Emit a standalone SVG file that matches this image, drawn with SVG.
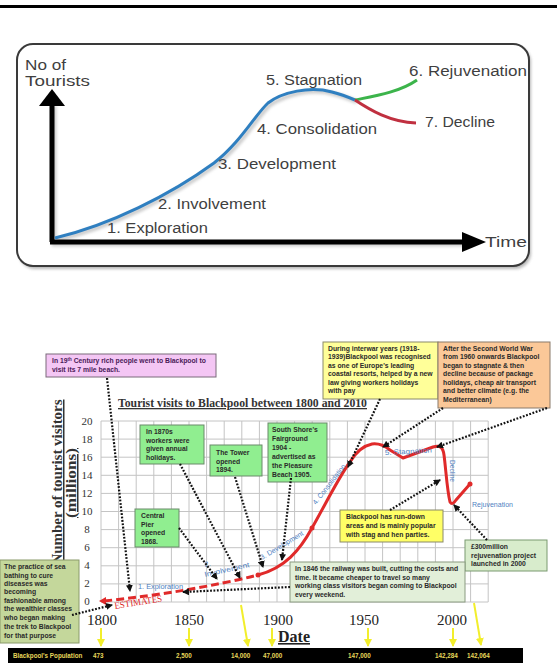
<svg xmlns="http://www.w3.org/2000/svg" width="557" height="663" viewBox="0 0 557 663">
<style>
.lbl{font-family:"Liberation Sans",Arial,sans-serif;font-size:14px;fill:#3f3f3f}
.box{font-family:"Liberation Sans",Arial,sans-serif;font-size:6.8px;font-weight:bold;fill:#2a2a2a}
.cl{font-family:"Liberation Sans",Arial,sans-serif;font-size:7.2px;fill:#4f7fbf}
.ser{font-family:"Liberation Serif","Times New Roman",serif}
.num{font-family:"Liberation Serif","Times New Roman",serif;font-size:11px;fill:#333;text-anchor:middle}
.yr{font-family:"Liberation Serif","Times New Roman",serif;font-size:15px;fill:#222;text-anchor:middle}
.dot{fill:none;stroke:#111;stroke-width:2.2;stroke-dasharray:1.8 1.6;marker-end:url(#ah)}
.ya{fill:none;stroke:#f2ee2c;stroke-width:2;marker-end:url(#yh)}
.pop{font-family:"Liberation Sans",Arial,sans-serif;font-size:6.3px;font-weight:bold;fill:#e6d75a}
.grid{stroke:#c4c4c4;stroke-width:1;fill:none}
</style>
<defs>
<marker id="ah" markerUnits="userSpaceOnUse" markerWidth="7" markerHeight="7" refX="6" refY="3.5" orient="auto"><path d="M0,0 L7,3.5 L0,7 z" fill="#111"/></marker>
<marker id="yh" markerUnits="userSpaceOnUse" markerWidth="8" markerHeight="8" refX="7" refY="4" orient="auto"><path d="M0,0 L8,4 L0,8 z" fill="#f2ee2c"/></marker>
<filter id="sh" x="-10%" y="-10%" width="120%" height="130%"><feGaussianBlur stdDeviation="1.5"/></filter>
</defs>
<rect width="557" height="663" fill="#fff"/>
<rect x="0" y="5" width="557" height="3" fill="#000"/>

<g id="lifecycle">
<rect x="19" y="46" width="512" height="223" rx="16" fill="#888" opacity="0.6" filter="url(#sh)"/>
<rect x="17" y="44" width="512" height="222" rx="16" fill="#fff" stroke="#3a3a3a" stroke-width="2"/>
<path d="M57,240 C112,227 172,197 216,165 C242,145 257,117 270,105 C287,94 312,88 334,94 C342,96 350,99 357,102" fill="none" stroke="#999" stroke-width="4" opacity="0.5" filter="url(#sh)"/>
<path d="M54,244 L54,106 M52,244 L467,244" stroke="#999" stroke-width="5" fill="none" opacity="0.5" filter="url(#sh)"/>
<path d="M52,242 L52,104 M50,242 L465,242" stroke="#000" stroke-width="5" fill="none"/>
<polygon points="52,89 39,106 65,106" fill="#000"/>
<polygon points="486,242 462,232 462,252" fill="#000"/>
<path d="M55,238 C110,225 170,195 214,163 C240,143 255,115 268,103 C282,92 310,86 332,92 C340,94 348,97 355,100" fill="none" stroke="#2f7fc0" stroke-width="3"/>
<path d="M355,100 C375,96 400,92 417,80" fill="none" stroke="#3cb44b" stroke-width="3"/>
<path d="M355,100 C370,110 390,122 416,123" fill="none" stroke="#c03040" stroke-width="3"/>
<text class="lbl" x="25" y="70" textLength="41" lengthAdjust="spacingAndGlyphs">No of</text>
<text class="lbl" x="25" y="86" textLength="65" lengthAdjust="spacingAndGlyphs">Tourists</text>
<text class="lbl" x="107" y="233" textLength="101" lengthAdjust="spacingAndGlyphs">1. Exploration</text>
<text class="lbl" x="158" y="209" textLength="108" lengthAdjust="spacingAndGlyphs">2. Involvement</text>
<text class="lbl" x="218" y="169" textLength="118" lengthAdjust="spacingAndGlyphs">3. Development</text>
<text class="lbl" x="257" y="134" textLength="120" lengthAdjust="spacingAndGlyphs">4. Consolidation</text>
<text class="lbl" x="266" y="85" textLength="96" lengthAdjust="spacingAndGlyphs">5. Stagnation</text>
<text class="lbl" x="409" y="76" textLength="118" lengthAdjust="spacingAndGlyphs">6.  Rejuvenation</text>
<text class="lbl" x="425" y="127" textLength="70" lengthAdjust="spacingAndGlyphs">7. Decline</text>
<text class="lbl" x="485" y="247" textLength="42" lengthAdjust="spacingAndGlyphs">Time</text>
</g>

<g id="chart">
<path class="grid" d="M101,421V602M118.6,421V602M136.2,421V602M153.8,421V602M171.4,421V602M189,421V602M206.6,421V602M224.2,421V602M241.8,421V602M259.4,421V602M277,421V602M294.6,421V602M312.2,421V602M329.8,421V602M347.4,421V602M365,421V602M382.6,421V602M400.2,421V602M417.8,421V602M435.4,421V602M453,421V602M470.6,421V602M488.2,421V602M101,421H488.2M101,439.1H488.2M101,457.2H488.2M101,475.3H488.2M101,493.4H488.2M101,511.5H488.2M101,529.6H488.2M101,547.7H488.2M101,565.8H488.2M101,583.9H488.2M101,602H488.2"/>
<text class="num" x="87" y="425">20</text>
<text class="num" x="87" y="443">18</text>
<text class="num" x="87" y="461">16</text>
<text class="num" x="87" y="479">14</text>
<text class="num" x="87" y="497">12</text>
<text class="num" x="87" y="515">10</text>
<text class="num" x="87" y="533">8</text>
<text class="num" x="87" y="551">6</text>
<text class="num" x="87" y="569">4</text>
<text class="num" x="87" y="587">2</text>
<text class="num" x="87" y="605">0</text>
<text class="ser" x="118" y="407" font-size="13" font-weight="bold" fill="#333" textLength="249" lengthAdjust="spacingAndGlyphs" text-decoration="underline">Tourist visits to Blackpool between 1800 and 2010</text>
<text class="ser" transform="translate(62,482) rotate(-90)" text-anchor="middle" font-size="15" font-weight="bold" fill="#333" textLength="165" lengthAdjust="spacingAndGlyphs" text-decoration="underline">Number of tourist visitors</text>
<text class="ser" transform="translate(76,483) rotate(-90)" text-anchor="middle" font-size="15" font-weight="bold" fill="#333" textLength="70" lengthAdjust="spacingAndGlyphs" text-decoration="underline">(millions)</text>
<text class="yr" x="102" y="625">1800</text>
<text class="yr" x="189" y="625">1850</text>
<text class="yr" x="278" y="625">1900</text>
<text class="yr" x="364" y="625">1950</text>
<text class="yr" x="452" y="625">2000</text>
<text class="ser" x="278" y="642" font-size="16" font-weight="bold" fill="#222" text-decoration="underline">Date</text>
</g>

<g id="curve">
<path d="M104,601 Q190,592 258,575" fill="none" stroke="#e02a2a" stroke-width="3" stroke-dasharray="8 4"/>
<polygon points="99,601 106,597 106,605" fill="#e02a2a"/>
<path d="M258,575 C285,568 300,550 312,528 C325,505 340,475 350,462 C356,452 362,446 372,444 C380,443 385,446 390,450 L403,458 L433,447 C440,445 443,447 444,455 C446,470 447,490 450,502 C452,505 454,503 456,500 L470,484" fill="none" stroke="#e02a2a" stroke-width="3" stroke-linejoin="round"/>
<circle cx="258" cy="575" r="2.5" fill="#e02a2a"/>
<circle cx="312" cy="528" r="2.5" fill="#e02a2a"/>
<circle cx="470" cy="484" r="2.5" fill="#e02a2a"/>
<text class="ser" transform="translate(115,609) rotate(-9)" font-size="9.5" fill="#e02a2a" textLength="48" lengthAdjust="spacingAndGlyphs">ESTIMATES</text>
<text class="cl" x="138" y="589" textLength="45" lengthAdjust="spacingAndGlyphs">1. Exploration</text>
<text class="cl" transform="translate(205,567) rotate(-12)">2.</text>
<text class="cl" transform="translate(205,577) rotate(-12.5)" textLength="46" lengthAdjust="spacingAndGlyphs">Involvement</text>
<text class="cl" transform="translate(262,560) rotate(-31)" textLength="49" lengthAdjust="spacingAndGlyphs">3. Development</text>
<text class="cl" transform="translate(316,505) rotate(-52)" textLength="49" lengthAdjust="spacingAndGlyphs">4. Consolidation</text>
<text class="cl" transform="translate(385,455) rotate(-3)" textLength="47" lengthAdjust="spacingAndGlyphs">5. Stagnation</text>
<text class="cl" transform="translate(450,460) rotate(90)" textLength="22" lengthAdjust="spacingAndGlyphs">Decline</text>
<text class="cl" x="472" y="507" textLength="41" lengthAdjust="spacingAndGlyphs">Rejuvenation</text>
</g>

<g id="box-beach">
<rect x="46" y="354" width="170" height="23" fill="#f4c6f4" stroke="#7a6a7a" stroke-width="1"/>
<text class="box" style="fill:#4a1a58"><tspan x="52" y="363">In 19<tspan font-size="4.5" dy="-2">th</tspan><tspan dy="2"> Century rich people went to Blackpool to</tspan></tspan><tspan x="52" y="372">visit its 7 mile  beach.</tspan></text>
</g>
<g id="box-1870s">
<rect x="140" y="425" width="64" height="39" fill="#90ee90" stroke="#6a8a6a" stroke-width="1"/>
<text class="box"><tspan x="146" y="434">In 1870s</tspan><tspan x="146" y="443">workers were</tspan><tspan x="146" y="451">given annual</tspan><tspan x="146" y="460">holidays.</tspan></text>
</g>
<g id="box-tower">
<rect x="210" y="445" width="52" height="31" fill="#90ee90" stroke="#6a8a6a" stroke-width="1"/>
<text class="box"><tspan x="216" y="455">The Tower</tspan><tspan x="216" y="464">opened</tspan><tspan x="216" y="472">1894.</tspan></text>
</g>
<g id="box-southshore">
<rect x="268" y="423" width="59" height="59" fill="#90ee90" stroke="#6a8a6a" stroke-width="1"/>
<text class="box"><tspan x="272" y="432">South Shore's</tspan><tspan x="272" y="441">Fairground</tspan><tspan x="272" y="450">1904 -</tspan><tspan x="272" y="459">advertised as</tspan><tspan x="272" y="468">the Pleasure</tspan><tspan x="272" y="477">Beach 1905.</tspan></text>
</g>
<g id="box-pier">
<rect x="135" y="509" width="44" height="38" fill="#90ee90" stroke="#6a8a6a" stroke-width="1"/>
<text class="box"><tspan x="141" y="518">Central</tspan><tspan x="141" y="527">Pier</tspan><tspan x="141" y="535">opened</tspan><tspan x="141" y="544">1868.</tspan></text>
</g>
<g id="box-interwar">
<rect x="323" y="342" width="115" height="57" fill="#ffff99" stroke="#8a8a6a" stroke-width="1"/>
<text class="box"><tspan x="328" y="351">During interwar years (1918-</tspan><tspan x="328" y="359">1939)Blackpool was recognised</tspan><tspan x="328" y="368">as one of Europe's leading</tspan><tspan x="328" y="376">coastal resorts, helped by a new</tspan><tspan x="328" y="385">law giving workers holidays</tspan><tspan x="328" y="393">with pay</tspan></text>
</g>
<g id="box-postwar">
<rect x="438" y="342" width="112" height="66" fill="#fbc898" stroke="#8a7a6a" stroke-width="1"/>
<text class="box"><tspan x="443" y="351">After the Second World War</tspan><tspan x="443" y="359">from 1960 onwards Blackpool</tspan><tspan x="443" y="368">began to stagnate &amp; then</tspan><tspan x="443" y="376">decline because of package</tspan><tspan x="443" y="385">holidays, cheap air transport</tspan><tspan x="443" y="393">and better climate (e.g. the</tspan><tspan x="443" y="402">Mediterranean)</tspan></text>
</g>
<g id="box-rundown">
<rect x="340" y="510" width="103" height="32" fill="#ffff66" stroke="#8a8a6a" stroke-width="1"/>
<text class="box"><tspan x="346" y="519">Blackpool has run-down</tspan><tspan x="346" y="528">areas and is mainly popular</tspan><tspan x="346" y="537">with stag and hen parties.</tspan></text>
</g>
<g id="box-rejuv">
<rect x="465" y="540" width="82" height="31" fill="#d8eccc" stroke="#7a9a70" stroke-width="1"/>
<text class="box"><tspan x="471" y="549">£300million</tspan><tspan x="471" y="558">rejuvenation project</tspan><tspan x="471" y="566">launched in 2000</tspan></text>
</g>
<g id="box-railway">
<rect x="290" y="562" width="175" height="40" fill="#e2efd9" stroke="#8a9a80" stroke-width="1"/>
<text class="box"><tspan x="295" y="571">In 1846 the railway was built,  cutting the costs and</tspan><tspan x="295" y="580">time.  It became cheaper to travel so many</tspan><tspan x="295" y="588">working class visitors began coming to Blackpool</tspan><tspan x="295" y="597">every weekend.</tspan></text>
</g>
<g id="box-seabathing">
<rect x="0" y="560" width="79" height="83" fill="#c4d79b" stroke="#8a9a6a" stroke-width="1"/>
<text class="box"><tspan x="4" y="569">The practice of sea</tspan><tspan x="4" y="578">bathing to cure</tspan><tspan x="4" y="586">diseases was</tspan><tspan x="4" y="594">becoming</tspan><tspan x="4" y="603">fashionable among</tspan><tspan x="4" y="611">the wealthier classes</tspan><tspan x="4" y="620">who began making</tspan><tspan x="4" y="629">the trek to Blackpool</tspan><tspan x="4" y="638">for that purpose</tspan></text>
</g>

<g id="connectors">
<path class="dot" d="M107,378 L130,591"/>
<path class="dot" d="M180,464 L240,578"/>
<path class="dot" d="M235,477 L263,567"/>
<path class="dot" d="M179,528 L217,579"/>
<path class="dot" d="M291,478 L282,560"/>
<path class="dot" d="M380,399 L348,467"/>
<path class="dot" d="M443,408 L383,447"/>
<path class="dot" d="M547,408 L437,447"/>
<path class="dot" d="M390,510 L440,480"/>
<path class="dot" d="M487,540 L454,505"/>
<path class="dot" d="M290,587 L183,592"/>
<path class="dot" d="M72,615 L112,605"/>
<path class="ya" d="M101,628 L101,646"/>
<path class="ya" d="M189,628 L189,646"/>
<path class="ya" d="M241,605 L248,646"/>
<path class="ya" d="M272,628 L272,646"/>
<path class="ya" d="M368,628 L368,646"/>
<path class="ya" d="M453,628 L453,646"/>
<path class="ya" d="M474,603 L481,645"/>
</g>

<g id="population">
<rect x="8" y="648" width="515" height="15" fill="#000"/>
<text class="pop" x="13" y="658">Blackpool's Population</text>
<text class="pop" x="93" y="658">473</text>
<text class="pop" x="176" y="658">2,500</text>
<text class="pop" x="231" y="658">14,000</text>
<text class="pop" x="263" y="658">47,000</text>
<text class="pop" x="348" y="658">147,000</text>
<text class="pop" x="435" y="658">142,284</text>
<text class="pop" x="467" y="658">142,064</text>
</g>
</svg>
